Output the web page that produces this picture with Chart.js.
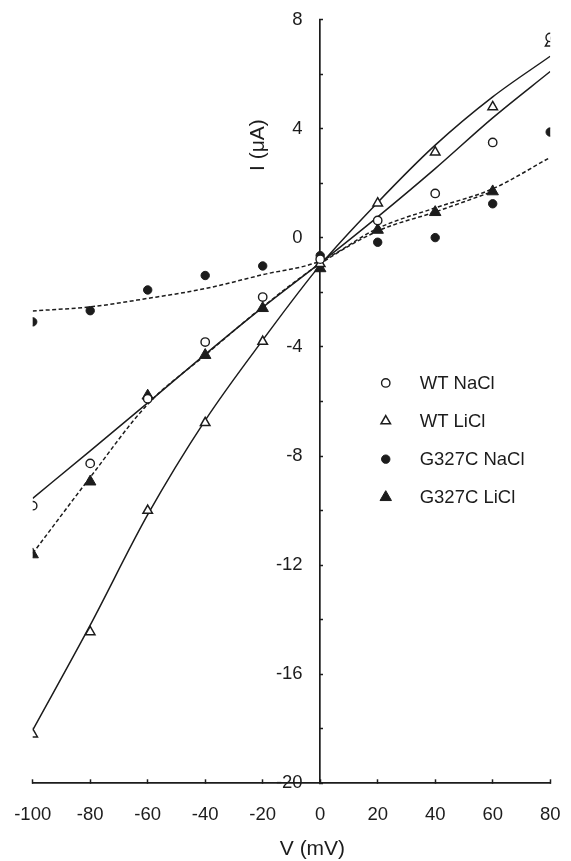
<!DOCTYPE html>
<html><head><meta charset="utf-8">
<script src="https://cdn.jsdelivr.net/npm/chart.js@4.4.1/dist/chart.umd.min.js"></script>
<style>html,body{margin:0;padding:0;background:#fff;}#wrap{width:571px;height:861px;}</style>
</head><body><div id="wrap"><canvas id="c" width="571" height="861"></canvas></div>
<script>
// ---- data ----
const voltages = [-100, -80, -60, -40, -20, 0, 20, 40, 60, 80];
const wtNaCl    = [-9.82, -8.27, -5.90, -3.82, -2.17, -0.78, 0.64, 1.63, 3.50, 7.35];
const wtLiCl    = [-18.2, -14.45, -10.0, -6.78, -3.80, -0.95, 1.27, 3.14, 4.80, 7.14];
const g327cNaCl = [-3.08, -2.67, -1.91, -1.38, -1.03, -0.65, -0.16, 0.01, 1.25, 3.88];
const g327cLiCl = [-11.61, -8.94, -5.79, -4.30, -2.58, -1.12, 0.29, 0.94, 1.70];
// fitted curves, read at the same voltages
const fitWtNaCl    = [-9.55, -7.81, -6.05, -4.27, -2.55, -0.92, 0.77, 2.54, 4.40, 6.10];
const fitWtLiCl    = [-18.05, -14.20, -10.15, -6.69, -3.75, -1.00, 1.30, 3.40, 5.17, 6.66];
const fitG327cNaCl = [-2.68, -2.53, -2.22, -1.86, -1.35, -0.85, 0.35, 1.10, 1.80, 2.95];
const fitG327cLiCl = [-11.57, -8.78, -6.10, -4.30, -2.53, -0.95, 0.25, 0.95, 1.70];
const legendLabels = ['WT NaCl', 'WT LiCl', 'G327C NaCl', 'G327C LiCl'];
const xTitle = 'V (mV)';
const yTitle = 'I (\u03BCA)';

const FONT = '"Liberation Sans", Arial, sans-serif';
const INK = '#1c1c1c';
const pts = ys => ys.map((y, i) => ({x: voltages[i], y}));

const markerSets = [
  {label: legendLabels[0], data: pts(wtNaCl), pointStyle: 'circle', pointRadius: 4.2, pointBackgroundColor: '#fff', pointBorderColor: INK, pointBorderWidth: 1.4},
  {label: legendLabels[1], data: pts(wtLiCl), pointStyle: 'triangle', pointRadius: 5.5, pointBackgroundColor: '#fff', pointBorderColor: INK, pointBorderWidth: 1.5},
  {label: legendLabels[2], data: pts(g327cNaCl), pointStyle: 'circle', pointRadius: 4.2, pointBackgroundColor: INK, pointBorderColor: INK, pointBorderWidth: 1},
  {label: legendLabels[3], data: pts(g327cLiCl), pointStyle: 'triangle', pointRadius: 6.6, pointBackgroundColor: INK, pointBorderColor: INK, pointBorderWidth: 1},
].map(d => Object.assign({showLine: false, pointHoverRadius: d.pointRadius}, d));

const fitSets = [
  {data: pts(fitWtNaCl), borderDash: []},
  {data: pts(fitWtLiCl), borderDash: []},
  {data: pts(fitG327cNaCl), borderDash: [4, 2.5]},
  {data: pts(fitG327cLiCl), borderDash: [4, 2.5]},
].map(d => Object.assign({label: 'fit', showLine: true, pointRadius: 0, borderColor: INK, borderWidth: 1.5, cubicInterpolationMode: 'monotone', fill: false}, d));

const extras = {
  id: 'extras',
  afterDraw(chart) {
    const {ctx, scales: {x, y}} = chart;
    ctx.save();
    // y axis title
    ctx.font = '21px ' + FONT;
    ctx.fillStyle = INK;
    ctx.textAlign = 'center';
    ctx.textBaseline = 'middle';
    ctx.translate(x.getPixelForValue(0) - 61.5, y.getPixelForValue(3.4));
    ctx.rotate(-Math.PI / 2);
    ctx.fillText(yTitle, 0, 0);
    ctx.restore();
    // legend
    const mx = x.getPixelForValue(22.8), tx = x.getPixelForValue(34.6);
    const y0 = y.getPixelForValue(-5.32), dy = 38.1;
    markerSets.forEach((d, i) => {
      const yy = y0 + i * dy;
      ctx.save();
      ctx.fillStyle = d.pointBackgroundColor;
      ctx.strokeStyle = d.pointBorderColor;
      ctx.lineWidth = d.pointBorderWidth;
      Chart.helpers.drawPoint(ctx, {pointStyle: d.pointStyle, radius: d.pointRadius, rotation: 0, borderWidth: d.pointBorderWidth}, mx, yy);
      ctx.fillStyle = INK;
      ctx.font = '18.5px ' + FONT;
      ctx.textAlign = 'left';
      ctx.textBaseline = 'middle';
      ctx.fillText(d.label, tx, yy + 1);
      ctx.restore();
    });
  }
};

new Chart(document.getElementById('c'), {
  type: 'scatter',
  data: {datasets: markerSets.concat(fitSets)},
  options: {
    responsive: false,
    animation: false,
    layout: {padding: {left: 32.7, right: 20.8, top: 19.7, bottom: 0}},
    plugins: {legend: {display: false}, tooltip: {enabled: false}},
    scales: {
      x: {
        type: 'linear', min: -100, max: 80, position: 'bottom',
        ticks: {stepSize: 20, autoSkip: false, maxRotation: 0, color: INK, padding: 24.5, font: {family: FONT, size: 18.5}},
        grid: {display: true, drawOnChartArea: false, drawTicks: true, tickLength: -4, tickColor: INK, tickWidth: 1.5},
        border: {display: true, color: INK, width: 1.7},
        title: {display: true, text: '\u2002\u2002\u2002\u2002' + xTitle, color: INK, font: {family: FONT, size: 21, lineHeight: 1}, padding: {top: 0, bottom: 1}},
        afterFit: s => { s.height = 77.7; s.paddingLeft = 0; s.paddingRight = 0; }
      },
      y: {
        type: 'linear', min: -20, max: 8, position: {x: 0},
        ticks: {stepSize: 2, autoSkip: false, color: INK, font: {family: FONT, size: 18.5},
          callback: v => (v % 4 === 0 ? String(v) + '\u2002\u2005\u2009' : '')},
        grid: {display: true, drawOnChartArea: false, drawTicks: true, tickLength: -4, tickColor: INK, tickWidth: 1.5},
        border: {display: true, color: INK, width: 1.7}
      }
    }
  },
  plugins: [extras]
});
</script>
</body></html>
